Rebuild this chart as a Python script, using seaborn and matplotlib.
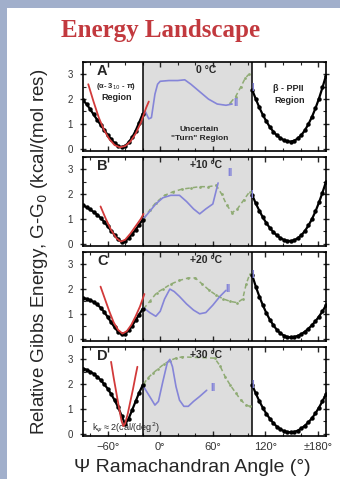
import matplotlib
matplotlib.use('Agg')
import matplotlib.pyplot as plt
import seaborn as sns
from matplotlib.patches import Rectangle
from matplotlib.ticker import MultipleLocator, FixedLocator

sns.set_style('ticks')
plt.rcParams['font.family'] = ['Liberation Sans', 'DejaVu Sans']

# ---------------- data ----------------
panel_letters = ['A', 'B', 'C', 'D']
temps = ['0 °C', '+10 °C', '+20 °C', '+30 °C']
x_ticks = [-60, 0, 60, 120, 180]
x_tick_labels = ['\u221260°', '0°', '60°', '120°', '±180°']
y_ticks = [0, 1, 2, 3]
y_tick_labels = ['0', '1', '2', '3']

left_x = [-88, -84, -80, -76, -72, -68, -64, -60, -56, -52, -48, -44, -40, -36, -32, -28, -24, -20]
black_left_A = [1.95, 1.8, 1.6, 1.38, 1.17, 0.96, 0.76, 0.56, 0.38, 0.22, 0.1, 0.05, 0.1, 0.25, 0.45, 0.72, 1.05, 1.4]
black_left_B = [1.55, 1.47, 1.38, 1.28, 1.17, 1.04, 0.88, 0.7, 0.52, 0.35, 0.18, 0.06, 0.1, 0.22, 0.38, 0.56, 0.76, 0.97]
black_left_C = [1.65, 1.6, 1.55, 1.48, 1.38, 1.25, 1.08, 0.88, 0.66, 0.45, 0.27, 0.17, 0.2, 0.33, 0.52, 0.74, 0.97, 1.2]
black_left_D = [2.63, 2.58, 2.5, 2.42, 2.3, 2.17, 2.0, 1.82, 1.6, 1.35, 1.07, 0.72, 0.38, 0.6, 0.95, 1.3, 1.65, 1.95]

right_x = [105, 109, 113, 117, 121, 125, 129, 133, 137, 141, 145, 149, 153, 157, 161, 165, 169, 173, 177, 181, 185, 189]
black_right_A = [2.36, 2.0, 1.66, 1.36, 1.1, 0.87, 0.68, 0.53, 0.42, 0.34, 0.29, 0.28, 0.32, 0.41, 0.55, 0.74, 0.99, 1.28, 1.63, 2.02, 2.47, 2.95]
black_right_B = [1.95, 1.62, 1.33, 1.06, 0.83, 0.63, 0.46, 0.33, 0.22, 0.15, 0.11, 0.1, 0.14, 0.22, 0.34, 0.51, 0.73, 0.99, 1.3, 1.66, 2.06, 2.5]
black_right_C = [2.55, 2.1, 1.7, 1.35, 1.03, 0.76, 0.54, 0.35, 0.21, 0.12, 0.06, 0.05, 0.07, 0.11, 0.18, 0.28, 0.4, 0.54, 0.7, 0.89, 1.1, 1.35]
black_right_D = [1.95, 1.62, 1.31, 1.04, 0.8, 0.6, 0.42, 0.28, 0.17, 0.1, 0.06, 0.05, 0.07, 0.12, 0.21, 0.32, 0.46, 0.62, 0.82, 1.05, 1.31, 1.6]

red_A_x = [-82, -76, -70, -64, -58, -52, -46, -40, -34, -28, -22, -16, -13]
red_A_y = [2.6, 1.9, 1.25, 0.75, 0.38, 0.14, 0.05, 0.1, 0.28, 0.6, 1.05, 1.65, 1.9]
red_B_x = [-68, -62, -56, -50, -45, -40, -34, -28, -22, -19]
red_B_y = [1.5, 1.0, 0.55, 0.22, 0.08, 0.15, 0.4, 0.7, 1.0, 1.2]
red_C_x = [-68, -63, -58, -53, -48, -43, -38, -33, -28, -23, -18]
red_C_y = [2.1, 1.6, 1.1, 0.65, 0.35, 0.2, 0.3, 0.55, 0.9, 1.3, 1.8]
red_D_x = [-56, -53, -50, -47, -44, -42, -40, -37, -34, -31, -28, -26]
red_D_y = [2.9, 2.25, 1.65, 1.05, 0.5, 0.3, 0.4, 0.8, 1.3, 1.8, 2.35, 2.7]

blue_A_x = [-17, -13, -10, -6, -3, 0, 10, 20, 28, 35, 45, 55, 65, 75, 82]
blue_A_y = [1.5, 1.2, 1.25, 2.2, 2.6, 2.72, 2.75, 2.75, 2.78, 2.6, 2.3, 2.0, 1.8, 1.75, 1.8]
green_A_x = [80, 86, 92, 97, 101]
green_A_y = [1.85, 2.1, 2.5, 2.85, 3.0]

blue_B_x = [-19, -12, -5, 3, 12, 22, 30, 38, 45, 52, 60, 66]
blue_B_y = [1.0, 1.3, 1.6, 1.85, 1.95, 1.95, 1.7, 1.4, 1.2, 1.4, 1.6, 2.45]
green_B_x = [-19, -12, -5, 5, 15, 25, 35, 45, 55, 64, 70, 76, 82, 88, 95, 102]
green_B_y = [1.0, 1.35, 1.65, 1.95, 2.1, 2.2, 2.25, 2.3, 2.3, 2.35, 2.0, 1.55, 1.25, 1.4, 1.75, 2.1]

blue_C_x = [-19, -12, -5, 0, 5, 11, 16, 22, 30, 38, 45, 52, 60, 68, 75]
blue_C_y = [1.25, 1.05, 0.9, 1.1, 1.6, 2.0, 1.9, 1.7, 1.4, 1.15, 1.0, 1.05, 1.35, 1.7, 1.95]
green_C_x = [-19, -12, -4, 3, 12, 22, 32, 40, 48, 56, 64, 72, 80, 88, 94, 98, 102]
green_C_y = [1.2, 1.5, 1.85, 2.0, 2.2, 2.35, 2.45, 2.45, 2.2, 1.95, 1.75, 1.6, 1.5, 1.45, 1.6, 2.2, 2.6]

blue_D_x = [-19, -12, -6, -2, 3, 8, 11, 14, 18, 22, 27, 32, 38, 45, 53]
blue_D_y = [1.9, 1.5, 1.15, 1.3, 2.1, 2.85, 3.0, 2.7, 1.9, 1.35, 1.1, 1.1, 1.3, 1.5, 1.75]
green_D_x = [-19, -14, -8, -3, 4, 11, 18, 25, 62, 68, 74, 80, 86, 92, 98, 102]
green_D_y = [2.0, 2.25, 2.45, 2.6, 2.8, 2.95, 3.05, 3.1, 3.05, 2.75, 2.3, 1.95, 1.65, 1.35, 1.15, 1.1]

label_II_x = [86, 80, 77, 60]
label_II_y = [1.85, 2.85, 2.0, 1.85]
label_I_x = [105, 104, 105, 105]
label_I_y = [2.45, 1.95, 2.55, 1.95]

black_left = [black_left_A, black_left_B, black_left_C, black_left_D]
black_right = [black_right_A, black_right_B, black_right_C, black_right_D]
reds = [(red_A_x, red_A_y), (red_B_x, red_B_y), (red_C_x, red_C_y), (red_D_x, red_D_y)]
blues = [(blue_A_x, blue_A_y), (blue_B_x, blue_B_y), (blue_C_x, blue_C_y), (blue_D_x, blue_D_y)]
greens = [(green_A_x, green_A_y), (green_B_x, green_B_y), (green_C_x, green_C_y), (green_D_x, green_D_y)]

# ---------------- figure ----------------
W, H = 340, 479
fig = plt.figure(figsize=(W / 100, H / 100), dpi=100)
fig.patch.set_facecolor('#a1afcb')
fig.add_artist(Rectangle((7 / W, 0), 1 - 7 / W, 1 - 8 / H, transform=fig.transFigure,
                         facecolor='white', edgecolor='none', zorder=-10))

BLUE = '#8585d8'
GREEN = '#8fab74'
RED = '#d23a3a'
GRAY = '#dddddd'

left_px, right_px = 83, 326
tops = [62, 157, 252, 347]
ph = 89

for i in range(4):
    top = tops[i]
    ax = fig.add_axes([left_px / W, 1 - (top + ph) / H, (right_px - left_px) / W, ph / H])
    ax.set_facecolor('white')
    ax.axvspan(-20, 105, color=GRAY, zorder=0, lw=0)
    ax.axvline(-20, color='black', lw=1.1, zorder=1)
    ax.axvline(105, color='black', lw=1.1, zorder=1)

    gx, gy = greens[i]
    sns.lineplot(x=gx, y=gy, ax=ax, color=GREEN, linewidth=1.1, linestyle=(0, (3, 2)),
                 marker='o', markersize=2, markeredgewidth=0, zorder=2)
    bx, by = blues[i]
    sns.lineplot(x=bx, y=by, ax=ax, color=BLUE, linewidth=1.2, zorder=3)
    sns.lineplot(x=left_x, y=black_left[i], ax=ax, color='black', linewidth=1.6,
                 marker='o', markersize=3.2, markeredgewidth=0, zorder=4)
    sns.lineplot(x=right_x, y=black_right[i], ax=ax, color='black', linewidth=1.6,
                 marker='o', markersize=3.2, markeredgewidth=0, zorder=4)
    rx, ry = reds[i]
    sns.lineplot(x=rx, y=ry, ax=ax, color=RED, linewidth=1.3, zorder=5)

    ax.text(label_II_x[i], label_II_y[i], 'II', color=BLUE, fontsize=7, fontweight='bold',
            ha='center', va='center', zorder=6)
    ax.text(label_I_x[i], label_I_y[i], 'I', color=BLUE, fontsize=7, fontweight='bold',
            ha='center', va='center', zorder=6)

    ax.text(-66, 3.15, panel_letters[i], fontsize=10.5, fontweight='bold', ha='center', va='center')
    ax.text(52, 3.18, temps[i], fontsize=7.5, fontweight='bold', ha='center', va='center')

    ax.set_xlim(-88, 189)
    ax.set_ylim(-0.1, 3.5)
    ax.set_xlabel('')
    ax.set_ylabel('')
    ax.xaxis.set_major_locator(FixedLocator(x_ticks))
    ax.xaxis.set_minor_locator(MultipleLocator(20))
    ax.set_yticks(y_ticks)
    ax.set_yticklabels(y_tick_labels)
    ax.yaxis.set_minor_locator(MultipleLocator(0.5))
    if i == 3:
        ax.set_xticklabels(x_tick_labels)
    else:
        ax.set_xticklabels([])
    ax.tick_params(axis='x', which='major', direction='in', top=True, bottom=True,
                   length=3.5, width=1, labelsize=8, labelcolor='#333333', pad=4)
    ax.tick_params(axis='x', which='minor', direction='in', top=True, bottom=True,
                   length=2, width=0.8)
    ax.tick_params(axis='y', which='major', direction='inout', left=True, right=True,
                   length=5, width=1, labelsize=7, labelcolor='#333333', pad=5)
    ax.tick_params(axis='y', which='minor', direction='in', left=True, right=True,
                   length=2, width=0.8)
    for s in ax.spines.values():
        s.set_linewidth(1.2)
        s.set_color('black')
        s.set_visible(True)

    if i == 0:
        ax.text(-50, 2.52, '(α- 3$_{10}$ - π)', fontsize=5.5, fontweight='bold', ha='center', va='center')
        ax.text(-50, 2.05, 'Region', fontsize=6.5, fontweight='bold', ha='center', va='center')
        ax.text(45, 0.75, 'Uncertain', fontsize=6, fontweight='bold', ha='center', va='center')
        ax.text(45, 0.42, '"Turn" Region', fontsize=6, fontweight='bold', ha='center', va='center')
        ax.text(146, 2.42, 'β - PPII', fontsize=6.5, fontweight='bold', ha='center', va='center')
        ax.text(148, 1.95, 'Region', fontsize=6.5, fontweight='bold', ha='center', va='center')
    if i == 3:
        ax.text(-78, 0.22, 'k$_\\psi$ \u2248 2(cal/(deg$^2$)', fontsize=6.5, ha='left', va='center')

fig.text(161 / W, 1 - 30 / H, 'Energy Landscape', ha='center', va='center',
         fontfamily=['Liberation Serif', 'DejaVu Serif'], fontweight='bold', fontsize=18,
         color='#c2393e')
fig.text(40 / W, 1 - 252 / H, 'Relative Gibbs Energy, G-G$_0$ (kcal/(mol res)',
         rotation=90, ha='center', va='center', fontsize=13.5)
fig.text(192 / W, 1 - 467 / H, 'Ψ Ramachandran Angle (°)', ha='center', va='center',
         fontsize=14)

fig.savefig('out.png', dpi=100, facecolor=fig.get_facecolor())
